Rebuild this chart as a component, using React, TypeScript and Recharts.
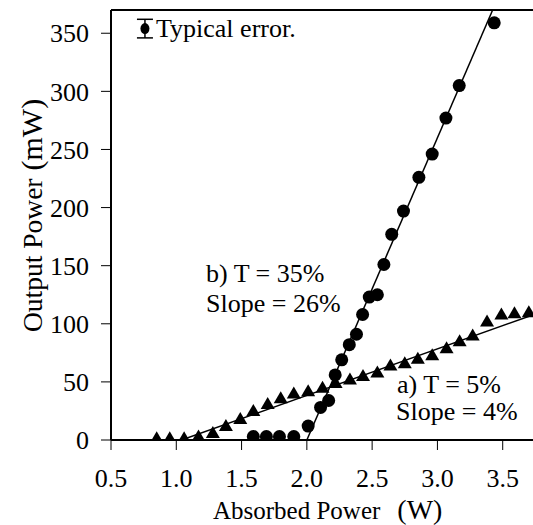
import React from 'react'
import {
  ComposedChart,
  Scatter,
  XAxis,
  YAxis,
  ReferenceLine,
  ErrorBar,
} from 'recharts'

// a) T = 5% (triangles)
const aX = [0.85, 0.95, 1.06, 1.17, 1.28, 1.38, 1.49, 1.59, 1.7, 1.8, 1.9, 2.01, 2.12, 2.22, 2.33, 2.43, 2.54, 2.64, 2.75, 2.85, 2.96, 3.07, 3.17, 3.27, 3.38, 3.49, 3.59, 3.7]
const aY = [1.5, 1.5, 1.5, 3, 6, 12, 18, 25, 31, 36, 40, 42, 45, 49, 52, 55, 58, 64, 66, 70, 73, 79, 85, 90, 102, 108, 109, 110]

// b) T = 35% (circles)
const bX = [1.59, 1.69, 1.79, 1.9, 2.01, 2.105, 2.167, 2.217, 2.267, 2.325, 2.38, 2.427, 2.478, 2.54, 2.59, 2.65, 2.74, 2.858, 2.96, 3.065, 3.167, 3.435]
const bY = [3, 3, 3, 3, 12, 28, 34, 56, 69, 82, 91, 108, 123, 125, 151, 177, 197, 226, 246, 277, 305, 359]

// linear fits
const fitAX = [1.04, 3.73]
const fitAY = [0, 107.6]
const fitBX = [2.0, 3.423]
const fitBY = [0, 370]

// typical error marker
const errX = [0.76]
const errY = [354]
const errSize = [8]

const xTicks = [0.5, 1.0, 1.5, 2.0, 2.5, 3.0, 3.5]
const yTicks = [0, 50, 100, 150, 200, 250, 300, 350]

const FONT = 'Liberation Serif'

const zip = (xs: number[], ys: number[]) => xs.map((x, i) => ({ x, y: ys[i] }))

const dataA = zip(aX, aY)
const dataB = zip(bX, bY)
const lineA = zip(fitAX, fitAY)
const lineB = zip(fitBX, fitBY)
const dataErr = errX.map((x, i) => ({ x, y: errY[i], err: errSize[i] }))

const Dot = (p: any) => <circle cx={p.cx} cy={p.cy} r={6.5} fill="#000" />
const SmallDot = (p: any) => <ellipse cx={p.cx} cy={p.cy} rx={4.5} ry={5.5} fill="#000" />
const Tri = (p: any) => (
  <polygon
    points={`${p.cx},${p.cy - 7} ${p.cx - 7},${p.cy + 5} ${p.cx + 7},${p.cy + 5}`}
    fill="#000"
  />
)
const NoShape = () => <g />

const txt = { fontFamily: FONT, fontSize: 26 }

export default function App() {
  const tick = { fill: '#000', fontSize: 26, style: { fontFamily: FONT } }
  return (
    <div style={{ position: 'absolute', left: 0, top: 0, width: 533, height: 525 }}>
      <ComposedChart
        width={533}
        height={525}
        margin={{ top: 10, right: 0, left: 0, bottom: 0 }}
      >
        <XAxis
          type="number"
          dataKey="x"
          domain={[0.5, 3.732]}
          ticks={xTicks}
          allowDataOverflow
          height={85}
          tick={tick}
          tickFormatter={(v) => v.toFixed(1)}
          tickSize={10}
          tickMargin={19}
          axisLine={{ stroke: '#000', strokeWidth: 2 }}
          tickLine={{ stroke: '#000', strokeWidth: 1 }}
        />
        <YAxis
          type="number"
          dataKey="y"
          domain={[0, 370]}
          ticks={yTicks}
          allowDataOverflow
          width={111}
          tick={tick}
          tickSize={10}
          tickMargin={12}
          axisLine={{ stroke: '#000', strokeWidth: 2 }}
          tickLine={{ stroke: '#000', strokeWidth: 1 }}
        />
        <ReferenceLine y={370} stroke="#000" strokeWidth={2} />
        <Scatter
          data={lineA}
          line={{ stroke: '#000', strokeWidth: 1.5 }}
          shape={NoShape}
          isAnimationActive={false}
        />
        <Scatter
          data={lineB}
          line={{ stroke: '#000', strokeWidth: 1.5 }}
          shape={NoShape}
          isAnimationActive={false}
        />
        <Scatter data={dataA} shape={Tri} isAnimationActive={false} />
        <Scatter data={dataB} shape={Dot} isAnimationActive={false} />
        <Scatter data={dataErr} shape={SmallDot} isAnimationActive={false}>
          <ErrorBar dataKey="err" direction="y" width={8} stroke="#000" strokeWidth={1.5} />
        </Scatter>
      </ComposedChart>
      <svg
        width={533}
        height={525}
        style={{ position: 'absolute', left: 0, top: 0, pointerEvents: 'none' }}
        fill="#000"
      >
        <text x={156} y={37} style={txt}>Typical error.</text>
        <text x={206} y={282} style={txt}>b) T = 35%</text>
        <text x={206} y={312} style={txt}>Slope = 26%</text>
        <text x={397} y={393} style={txt}>a) T = 5%</text>
        <text x={396} y={420} style={txt}>Slope = 4%</text>
        <text x={213} y={519} style={{ fontFamily: FONT, fontSize: 25 }}>
          Absorbed Power
          <tspan dx={17} style={{ fontSize: 28 }}>(W)</tspan>
        </text>
        <text
          x={42}
          y={332}
          style={{ fontFamily: FONT, fontSize: 27.5 }}
          transform="rotate(-90, 42, 332)"
        >
          Output Power
          <tspan dx={8} style={{ fontSize: 30 }}>(mW)</tspan>
        </text>
      </svg>
    </div>
  )
}
